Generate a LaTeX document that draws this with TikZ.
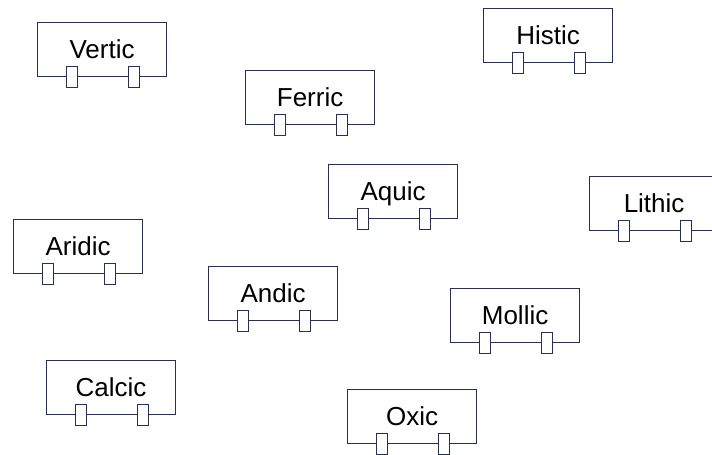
\documentclass[tikz,border=0pt]{standalone}
\usepackage{fontspec}
\setmainfont{Liberation Sans}
\definecolor{edgecol}{RGB}{40,48,80}
\begin{document}
\begin{tikzpicture}[x=1pt,y=-1pt,
  blockbox/.style={draw=edgecol,line width=1.2pt,fill=white,minimum width=129pt,minimum height=54pt,inner sep=0pt,anchor=north west},
  pinbox/.style={draw=edgecol,line width=1.1pt,fill=white,minimum width=11pt,minimum height=21pt,inner sep=0pt},
  soiltext/.style={anchor=base,inner sep=0pt,font=\fontsize{26}{26}\selectfont}]
\useasboundingbox (0,0) rectangle (712,455);
\fill[white] (0,0) rectangle (712,455);
\newcommand\soilblk[4]{%
  \node[blockbox] (#1) at (#2,#3) {};
  \node[pinbox] (#1-a) at ([xshift=35pt]#1.south west) {};
  \node[pinbox] (#1-b) at ([xshift=97pt]#1.south west) {};
  \node[soiltext] (#1-t) at ([yshift=-8.5pt]#1.center) {#4};
}
\soilblk{vertic}{37}{22}{Vertic}
\soilblk{histic}{483}{8}{Histic}
\soilblk{ferric}{245}{70}{Ferric}
\soilblk{aquic}{328}{164}{Aquic}
\soilblk{lithic}{589}{176}{Lithic}
\soilblk{aridic}{13}{219}{Aridic}
\soilblk{andic}{208}{266}{Andic}
\soilblk{mollic}{450}{288}{Mollic}
\soilblk{calcic}{46}{360}{Calcic}
\soilblk{oxic}{347}{389}{Oxic}
\end{tikzpicture}
\end{document}
